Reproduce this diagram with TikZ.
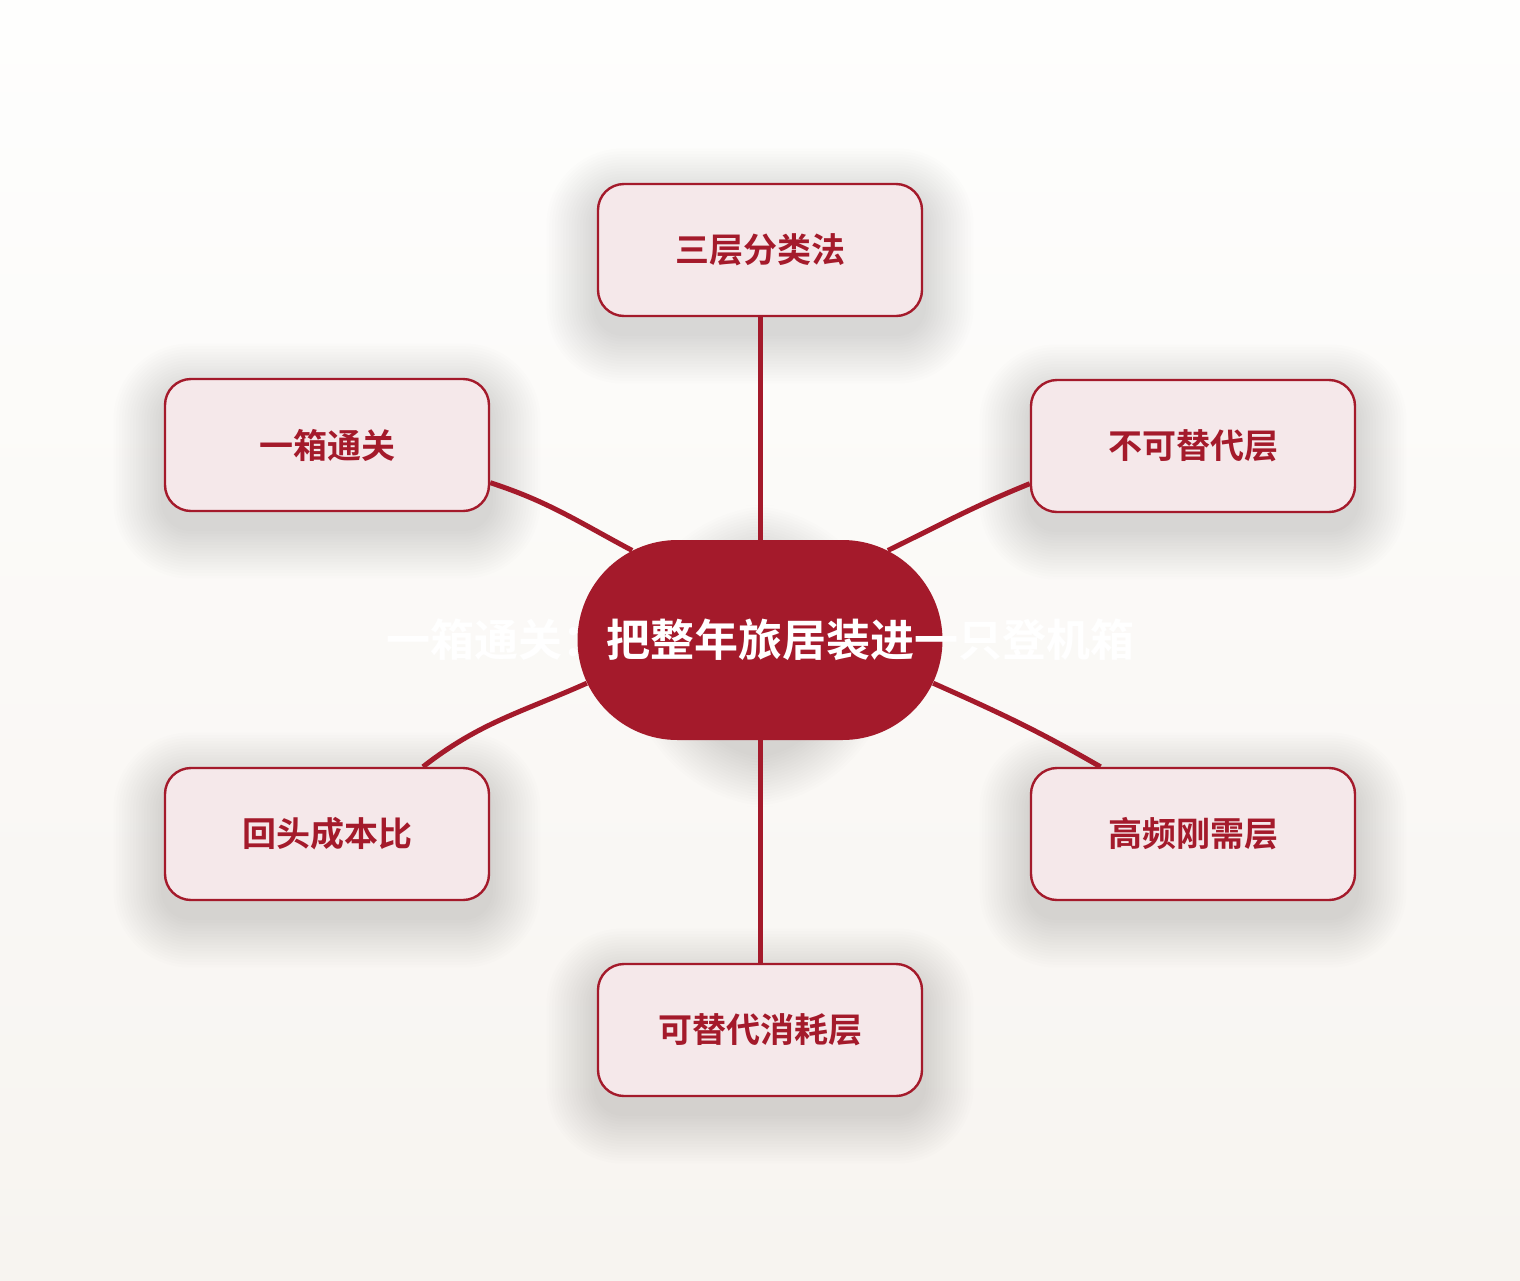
\documentclass[tikz,border=0pt]{standalone}
\usepackage{fontspec}
\newfontfamily\cjk{Noto Sans CJK SC}[BoldFont={Noto Sans CJK SC Bold}]
\usetikzlibrary{shapes.misc}
\definecolor{hubred}{HTML}{A41A2B}
\definecolor{leaffill}{HTML}{F5E8EA}
\definecolor{bgtop}{HTML}{FEFEFD}
\definecolor{bgbottom}{HTML}{F7F4F0}
\pgfdeclarelayer{background}
\pgfsetlayers{background,main}
\begin{document}
\begin{tikzpicture}[x=0.5pt,y=0.5pt,
  hub/.style={rounded rectangle,fill=hubred,minimum width=182.5pt,
    minimum height=100pt,inner sep=0pt,text=white,
    font=\cjk\bfseries\fontsize{22}{26}\selectfont},
  leaf/.style={rectangle,draw=hubred,line width=1.2pt,fill=leaffill,
    rounded corners=13pt,minimum width=162pt,minimum height=66pt,
    text=hubred,font=\cjk\bfseries\fontsize{17}{20}\selectfont},
  branch/.style={draw=hubred,line width=2.5pt},
  haze/.style={fill=black,opacity=0.009}]

%% 1520 x 1280
\useasboundingbox (0,0) rectangle (1520,-1280);

\node[hub] (hub) at (760,-640) {\makebox[0pt]{一箱通关：把整年旅居装进一只登机箱}};

\node[leaf] (top)   at (760,-250)  {三层分类法};
\node[leaf] (upl)   at (327,-445)  {一箱通关};
\node[leaf] (upr)   at (1193,-446) {不可替代层};
\node[leaf] (lowl)  at (327,-834)  {回头成本比};
\node[leaf] (lowr)  at (1193,-834) {高频刚需层};
\node[leaf] (bot)   at (760,-1030) {可替代消耗层};

%% branches
\draw[branch] (hub.90) -- (top.south);
\draw[branch] (hub.-90) -- (bot.north);
\draw[branch] (hub.145) to[out=152,in=-18] (upl.-13.1);
\draw[branch] (hub.194) to[out=204,in=38] (lowl.35.8);
\draw[branch] (hub.35) to[out=26,in=202] (upr.193.8);
\draw[branch] (hub.-14.4) to[out=-24,in=150] (lowr.144.4);

%% backdrop and soft shadows
\begin{pgfonlayer}{background}
\shade[top color=bgtop,bottom color=bgbottom] (0,0) rectangle (1520,-1280);
\foreach \n/\r in {hub/50,top/13,upl/13,upr/13,lowl/13,lowr/13,bot/13}
  \foreach \k in {1,...,18}
    \fill[haze,rounded corners={\r pt+\k*1.4pt}]
      ([xshift={-\k*1.4pt},yshift={-\k*1.4pt-8pt}]\n.south west) rectangle
      ([xshift={\k*1.4pt},yshift={\k*1.4pt-8pt}]\n.north east);
\end{pgfonlayer}

\end{tikzpicture}
\end{document}
